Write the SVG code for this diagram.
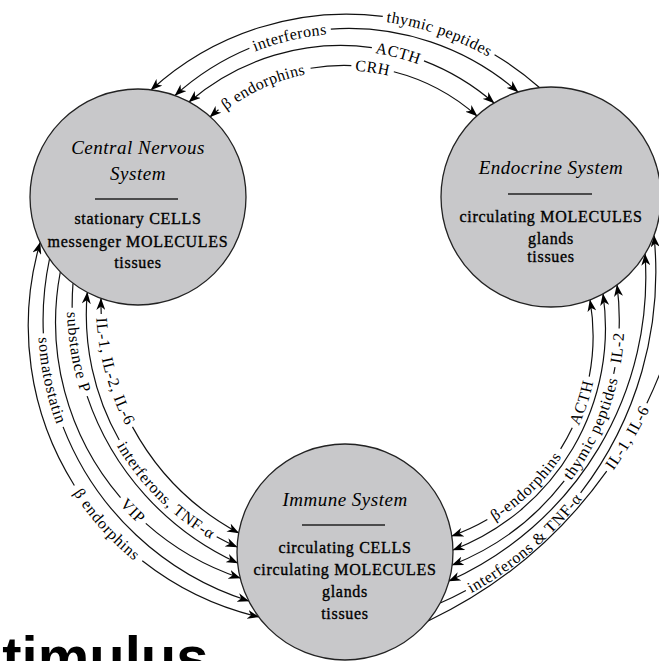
<svg xmlns="http://www.w3.org/2000/svg" width="659" height="661" viewBox="0 0 659 661">
<defs>
<style>
.conn path{fill:none;stroke:#111;stroke-width:1.2}
.lbl{font-family:"Liberation Serif","Times New Roman",serif;font-size:16px;letter-spacing:0.6px;fill:#000;text-anchor:middle}
.disc{fill:#c8c8ca;stroke:#222;stroke-width:1.3}
.title{font-family:"Liberation Serif","Times New Roman",serif;font-style:italic;font-size:19px;letter-spacing:0.5px;text-anchor:middle;fill:#000}
.body{font-family:"Liberation Serif","Times New Roman",serif;font-size:16px;letter-spacing:0.7px;text-anchor:middle;fill:#000;stroke:#000;stroke-width:0.35px}
.sep{stroke:#222;stroke-width:1.3}
</style>
<marker id="arr" viewBox="0 0 12 9" refX="11.5" refY="4.5" markerWidth="12" markerHeight="9" markerUnits="userSpaceOnUse" orient="auto-start-reverse">
<path d="M0,0 L12,4.5 L0,9 L3.5,4.5 Z" fill="#000" stroke="none"/>
</marker>
</defs>
<rect width="659" height="661" fill="#fff"/>
<g id="connectors" class="conn">
<path id="T1" pathLength="1000" stroke-dasharray="588.5 279 200" d="M151,90 A290,290 0 0 1 540,88" marker-start="url(#arr)"/>
<path id="T2" pathLength="1000" stroke-dasharray="236 224 600" d="M175,95.5 A258,258 0 0 1 518,92" marker-start="url(#arr)" marker-end="url(#arr)"/>
<path id="T3" pathLength="1000" stroke-dasharray="591 162 300" d="M189,102 A232.5,232.5 0 0 1 494,103" marker-start="url(#arr)" marker-end="url(#arr)"/>
<path id="T4" pathLength="1000" stroke-dasharray="38.5 349 140 147 400" d="M210,117 A200,200 0 0 1 477,116" marker-start="url(#arr)" marker-end="url(#arr)"/>
<path id="R1" pathLength="1000" stroke-dasharray="132 346 81 182 300" d="M451.8,536 A212,212 0 0 0 590,300" marker-start="url(#arr)" marker-end="url(#arr)"/>
<path id="R2" d="M453,550 A237.6,237.6 0 0 0 603,294" marker-start="url(#arr)" marker-end="url(#arr)"/>
<path id="R3" pathLength="1000" stroke-dasharray="405 340 19.5 111 200" d="M452.2,565 A263.6,263.6 0 0 0 617,285" marker-start="url(#arr)" marker-end="url(#arr)"/>
<path id="R4" d="M449,581 A332.7,332.7 0 0 0 645,254" marker-start="url(#arr)" marker-end="url(#arr)"/>
<path id="R5" pathLength="1000" stroke-dasharray="63 334 700" d="M440.2,603 A362,362 0 0 0 654,235.6" marker-end="url(#arr)"/>
<path id="R6" pathLength="1000" stroke-dasharray="569.5 191 300" d="M428.1,621 A463.7,463.7 0 0 0 680,310"/>
<path id="L1" pathLength="1000" stroke-dasharray="54.5 413 600" d="M101,298.5 A262,262 0 0 0 238.7,533" marker-start="url(#arr)" marker-end="url(#arr)"/>
<path id="L2" pathLength="1000" stroke-dasharray="486.5 441 100" d="M87.3,292.4 A254,254 0 0 0 237.1,547" marker-start="url(#arr)" marker-end="url(#arr)"/>
<path id="L3" pathLength="1000" stroke-dasharray="70.75 260.5 700" d="M73,283.3 A283.6,283.6 0 0 0 237.6,563" marker-end="url(#arr)"/>
<path id="L4" pathLength="1000" stroke-dasharray="623.5 93 300" d="M60.3,272 A269.5,269.5 0 0 0 240.2,578" marker-end="url(#arr)"/>
<path id="L5" pathLength="1000" stroke-dasharray="172.5 221 700" d="M49.5,259 A294.5,294.5 0 0 0 248.8,601" marker-end="url(#arr)"/>
<path id="L6" pathLength="1000" stroke-dasharray="521 210 300" d="M40.1,242.6 A299,299 0 0 0 258.8,617" marker-start="url(#arr)" marker-end="url(#arr)"/>
</g>
<g id="connector-labels" class="lbl">
<text dy="0.32em"><textPath href="#T1" startOffset="72.8%">thymic peptides</textPath></text>
<text dy="0.32em"><textPath href="#T2" startOffset="34.8%">interferons</textPath></text>
<text dy="0.32em"><textPath href="#T3" startOffset="67.2%">ACTH</textPath></text>
<text dy="0.32em"><textPath href="#T4" startOffset="21.3%">β endorphins</textPath></text>
<text dy="0.32em"><textPath href="#T4" startOffset="60.1%">CRH</textPath></text>
<text dy="0.32em"><textPath href="#R1" startOffset="30.5%">β-endorphins</textPath></text>
<text dy="0.32em"><textPath href="#R1" startOffset="65%">ACTH</textPath></text>
<text dy="0.32em"><textPath href="#R3" startOffset="57.5%">thymic peptides</textPath></text>
<text dy="0.32em"><textPath href="#R3" startOffset="82%">IL-2</textPath></text>
<text dy="0.32em"><textPath href="#R5" startOffset="23%">interferons &amp; TNF-α</textPath></text>
<text dy="0.32em"><textPath href="#R6" startOffset="66.5%">IL-1, IL-6</textPath></text>
<text dy="0.32em"><textPath href="#L1" startOffset="26.1%">IL-1, IL-2, IL-6</textPath></text>
<text dy="0.32em"><textPath href="#L2" startOffset="70.7%">interferons, TNF-α</textPath></text>
<text dy="0.32em"><textPath href="#L3" startOffset="20.1%">substance P</textPath></text>
<text dy="0.32em"><textPath href="#L4" startOffset="67%">VIP</textPath></text>
<text dy="0.32em"><textPath href="#L5" startOffset="28.3%">somatostatin</textPath></text>
<text dy="0.32em"><textPath href="#L6" startOffset="62.6%">β endorphins</textPath></text>
</g>
<g id="cns">
<circle class="disc" cx="138" cy="197" r="108"/>
<text class="title" x="138" y="154">Central Nervous</text>
<text class="title" x="138" y="180">System</text>
<line class="sep" x1="95" y1="199" x2="178" y2="199"/>
<text class="body" x="138" y="224">stationary CELLS</text>
<text class="body" x="138" y="247">messenger MOLECULES</text>
<text class="body" x="138" y="268">tissues</text>
</g>
<g id="endocrine">
<circle class="disc" cx="551" cy="197" r="110"/>
<text class="title" x="551" y="174">Endocrine System</text>
<line class="sep" x1="508" y1="194" x2="592" y2="194"/>
<text class="body" x="551" y="222">circulating MOLECULES</text>
<text class="body" x="551" y="244">glands</text>
<text class="body" x="551" y="262">tissues</text>
</g>
<g id="immune">
<circle class="disc" cx="345" cy="552" r="108"/>
<text class="title" x="345" y="506">Immune System</text>
<line class="sep" x1="302" y1="525" x2="385" y2="525"/>
<text class="body" x="345" y="553">circulating CELLS</text>
<text class="body" x="345" y="575">circulating MOLECULES</text>
<text class="body" x="345" y="597">glands</text>
<text class="body" x="345" y="619">tissues</text>
</g>
<text x="-30" y="677" font-family="'Liberation Sans', Arial, sans-serif" font-weight="bold" font-size="58" fill="#000">stimulus</text>
</svg>
